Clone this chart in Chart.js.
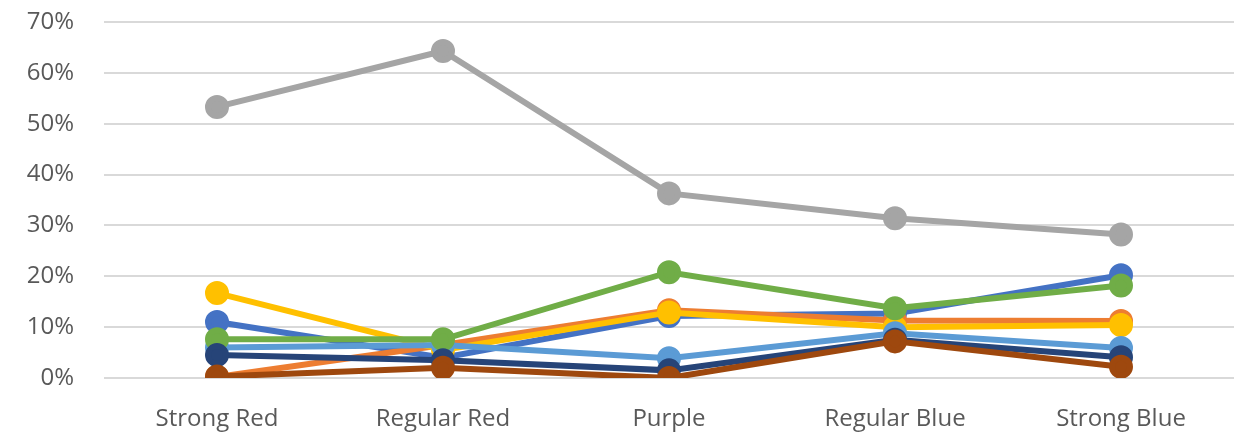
<!DOCTYPE html>
<html>
<head>
<meta charset="utf-8">
<script src="https://cdn.jsdelivr.net/npm/chart.js@4/dist/chart.umd.min.js"></script>
<style>
  html, body { margin: 0; padding: 0; background: #fff; overflow: hidden; }
  /* a bit wider than the window: Chart.js reserves room for point overflow on the right */
  #wrap { width: 1249px; height: 434px; position: relative; }
</style>
</head>
<body>
<div id="wrap"><canvas id="chart"></canvas></div>
<script>
// ── Data ────────────────────────────────────────────────────────────────
const categories = ['Strong Red', 'Regular Red', 'Purple', 'Regular Blue', 'Strong Blue'];
const yTicks = [0, 0.1, 0.2, 0.3, 0.4, 0.5, 0.6, 0.7];

const blueVals      = [0.110, 0.040, 0.122, 0.127, 0.202];
const orangeVals    = [0.002, 0.065, 0.133, 0.113, 0.112];
const grayVals      = [0.533, 0.643, 0.363, 0.314, 0.282];
const yellowVals    = [0.167, 0.055, 0.129, 0.100, 0.104];
const lightBlueVals = [0.060, 0.065, 0.039, 0.088, 0.059];
const greenVals     = [0.076, 0.076, 0.208, 0.137, 0.182];
const navyVals      = [0.045, 0.035, 0.015, 0.075, 0.041];
const brownVals     = [0.003, 0.020, 0.000, 0.072, 0.022];

const seriesList = [
  { data: blueVals,      color: '#4472C4' },
  { data: orangeVals,    color: '#ED7D31' },
  { data: grayVals,      color: '#A5A5A5' },
  { data: yellowVals,    color: '#FFC000' },
  { data: lightBlueVals, color: '#5B9BD5' },
  { data: greenVals,     color: '#70AD47' },
  { data: navyVals,      color: '#264478' },
  { data: brownVals,     color: '#9E480E' },
];

// ── Chart ───────────────────────────────────────────────────────────────
const FONT = "'Open Sans', 'Liberation Sans', sans-serif";

new Chart(document.getElementById('chart'), {
  type: 'line',
  data: {
    labels: categories,
    datasets: seriesList.map((s, i) => ({
      data: s.data,
      borderColor: s.color,
      backgroundColor: s.color,
      pointBackgroundColor: s.color,
      pointBorderColor: s.color,
      borderWidth: 6,
      pointRadius: 9,
      pointHoverRadius: 9,
      tension: 0,
      order: seriesList.length - i, // later series drawn on top
    })),
  },
  options: {
    responsive: true,
    maintainAspectRatio: false,
    animation: false,
    layout: { padding: { top: 22, right: 0, left: 0, bottom: 0 } },
    plugins: { legend: { display: false }, tooltip: { enabled: false } },
    scales: {
      x: {
        offset: true,
        grid: { display: false, drawTicks: false },
        border: { display: false },
        ticks: { color: '#595959', font: { family: FONT, size: 24 }, padding: 27, maxRotation: 0, autoSkip: false },
        afterFit: sc => { sc.height = 56; sc.paddingLeft = 0; sc.paddingRight = 0; },
      },
      y: {
        min: 0,
        max: 0.7,
        afterBuildTicks: sc => { sc.ticks = yTicks.map(v => ({ value: v })); },
        grid: { color: '#D9D9D9', lineWidth: 2, drawTicks: false },
        border: { display: false },
        ticks: {
          color: '#595959',
          font: { family: FONT, size: 24 },
          padding: 30,
          callback: v => Math.round(v * 100) + '%',
        },
        afterFit: sc => { sc.width = 104; sc.paddingTop = 0; sc.paddingBottom = 0; },
      },
    },
  },
});
</script>
</body>
</html>
